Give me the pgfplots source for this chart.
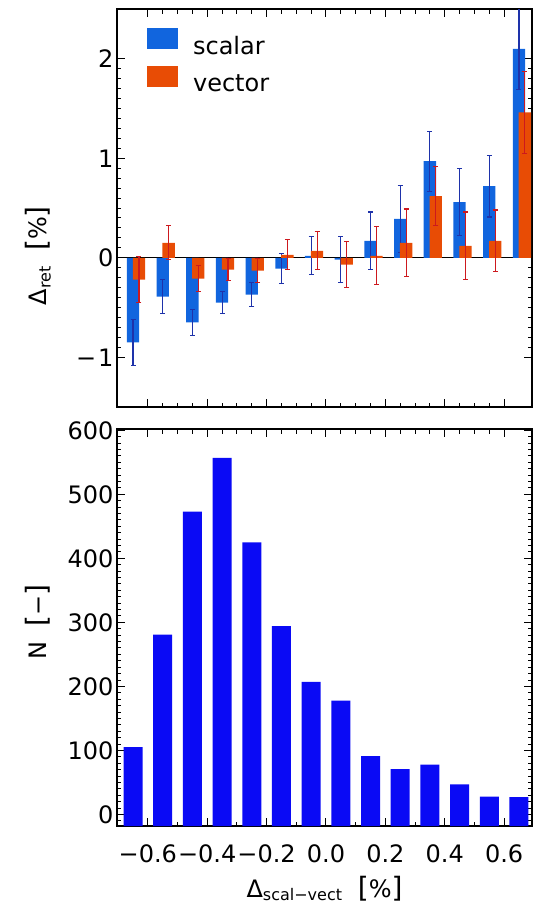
\documentclass[border=0pt]{standalone}
\usepackage{fontspec}
\setmainfont{DejaVu Sans}
\usepackage{pgfplots}
\usepackage{pgfplotstable}
\pgfplotsset{compat=1.18}

\definecolor{scalc}{RGB}{17,101,222}
\definecolor{vectc}{RGB}{232,76,5}
\definecolor{scalerr}{RGB}{30,50,170}
\definecolor{vecterr}{RGB}{205,25,30}
\definecolor{histc}{RGB}{10,10,245}

% bin centre, scalar, scalar err, vector, vector err
\pgfplotstableread{
x      s      se    v      ve
-0.65 -0.85   0.23 -0.22   0.23
-0.55 -0.39   0.17  0.15   0.17
-0.45 -0.65   0.13 -0.21   0.13
-0.35 -0.45   0.11 -0.12   0.11
-0.25 -0.37   0.12 -0.13   0.12
-0.15 -0.11   0.15  0.03   0.15
-0.05  0.02   0.19  0.07   0.19
 0.05 -0.02   0.23 -0.07   0.23
 0.15  0.17   0.29  0.02   0.29
 0.25  0.39   0.34  0.15   0.34
 0.35  0.97   0.30  0.62   0.30
 0.45  0.56   0.34  0.12   0.34
 0.55  0.72   0.31  0.17   0.31
 0.65  2.10   0.41  1.46   0.41
}\retdata

\pgfplotstableread{
x      n
-0.65  105
-0.55  281
-0.45  473
-0.35  557
-0.25  425
-0.15  294
-0.05  207
 0.05  178
 0.15   91
 0.25   71
 0.35   78
 0.45   47
 0.55   28
 0.65   27
}\histdata

\newcommand\bigf{\fontsize{24}{26}\selectfont}
\newcommand\brk[1]{{\fontsize{28}{28}\selectfont#1}}
\newcommand\sub[1]{\textsubscript{\fontsize{16}{16}\selectfont #1}}

\pgfplotsset{
  panel/.style={
    scale only axis, width=415pt,
    xmin=-0.704, xmax=0.694,
    xtick={-0.6,-0.4,-0.2,0,0.2,0.4,0.6},
    minor x tick num=3,
    tick align=inside,
    major tick length=8pt, minor tick length=4.5pt,
    axis line style={line width=1.2pt},
    tick style={line width=1pt, black},
    ticklabel style={font=\bigf},
  },
}

\begin{document}
\begin{tikzpicture}
\begin{axis}[panel, name=top, at={(0,0)}, anchor=north west,
  height=398pt,
  ymin=-1.5, ymax=2.5,
  xticklabels={},
  ytick={-1,0,1,2}, yticklabels={−\hspace{2pt}1,0,1,2},
  minor y tick num=9,
  every axis y label/.style={at={(axis description cs:-0.19,0.38)}, rotate=90, anchor=center, font=\bigf},
  ylabel={Δ\sub{ret}\ \ \brk{[}\%\brk{]}},
  legend style={at={(axis description cs:0.072,0.952)}, anchor=north west,
    draw=none, fill=none, font=\bigf, row sep=10pt, column sep=15pt,
    inner sep=0pt, nodes={inner sep=0pt}},
  legend cell align=left,
]
\addplot[black, line width=1pt, forget plot] coordinates {(-0.704,0) (0.694,0)};
\addplot[ybar, bar width=0.0415, bar shift=0, fill=scalc, draw=none,
  legend image code/.code={\fill[scalc] (0pt,-3pt) rectangle (31pt,18pt);},
  error bars/.cd, y dir=both, y explicit,
  error bar style={scalerr, line width=1.1pt},
  error mark options={rotate=90, mark size=2.5pt, scalerr, line width=1.1pt}]
  table[x=x, y=s, y error=se] {\retdata};
\addlegendentry{scalar}
% vector bars sit 0.02 to the right of the scalar ones
\addplot[ybar, bar width=0.0415, bar shift=0, fill=vectc, draw=none,
  legend image code/.code={\fill[vectc] (0pt,-3pt) rectangle (31pt,18pt);},
  error bars/.cd, y dir=both, y explicit,
  error bar style={vecterr, line width=1.1pt},
  error mark options={rotate=90, mark size=2.5pt, vecterr, line width=1.1pt}]
  table[x expr=\thisrow{x}+0.02, y=v, y error=ve] {\retdata};
\addlegendentry{vector}
\end{axis}

\begin{axis}[panel, name=bot, at={(0,-420pt)}, anchor=north west,
  height=397pt,
  ymin=-18, ymax=602,
  y coord trafo/.code={\pgfmathparse{#1+18}},
  y coord inv trafo/.code={\pgfmathparse{#1-18}},
  ytick={0,100,200,300,400,500,600},
  yticklabels={0,100,200,300,400,500,600},
  minor ytick={-10,10,20,...,590},
  xticklabels={−0.6,−0.4,−0.2,0.0,0.2,0.4,0.6},
  xticklabel style={yshift=-15pt},
  every axis y label/.style={at={(axis description cs:-0.19,0.514)}, rotate=90, anchor=center, font=\bigf},
  ylabel={N\ \ \brk{[}−\brk{]}},
  every axis x label/.style={at={(axis description cs:0.5,0)}, anchor=base, yshift=-71pt, font=\bigf},
  xlabel={Δ\sub{scal−vect}\ \ \brk{[}\%\brk{]}},
]
\addplot[ybar, bar width=0.064, fill=histc, draw=none] table[x=x, y=n] {\histdata};
\end{axis}

\pgfresetboundingbox
\path[use as bounding box] (-117pt,9pt) rectangle (416pt,-896pt);
\end{tikzpicture}
\end{document}
